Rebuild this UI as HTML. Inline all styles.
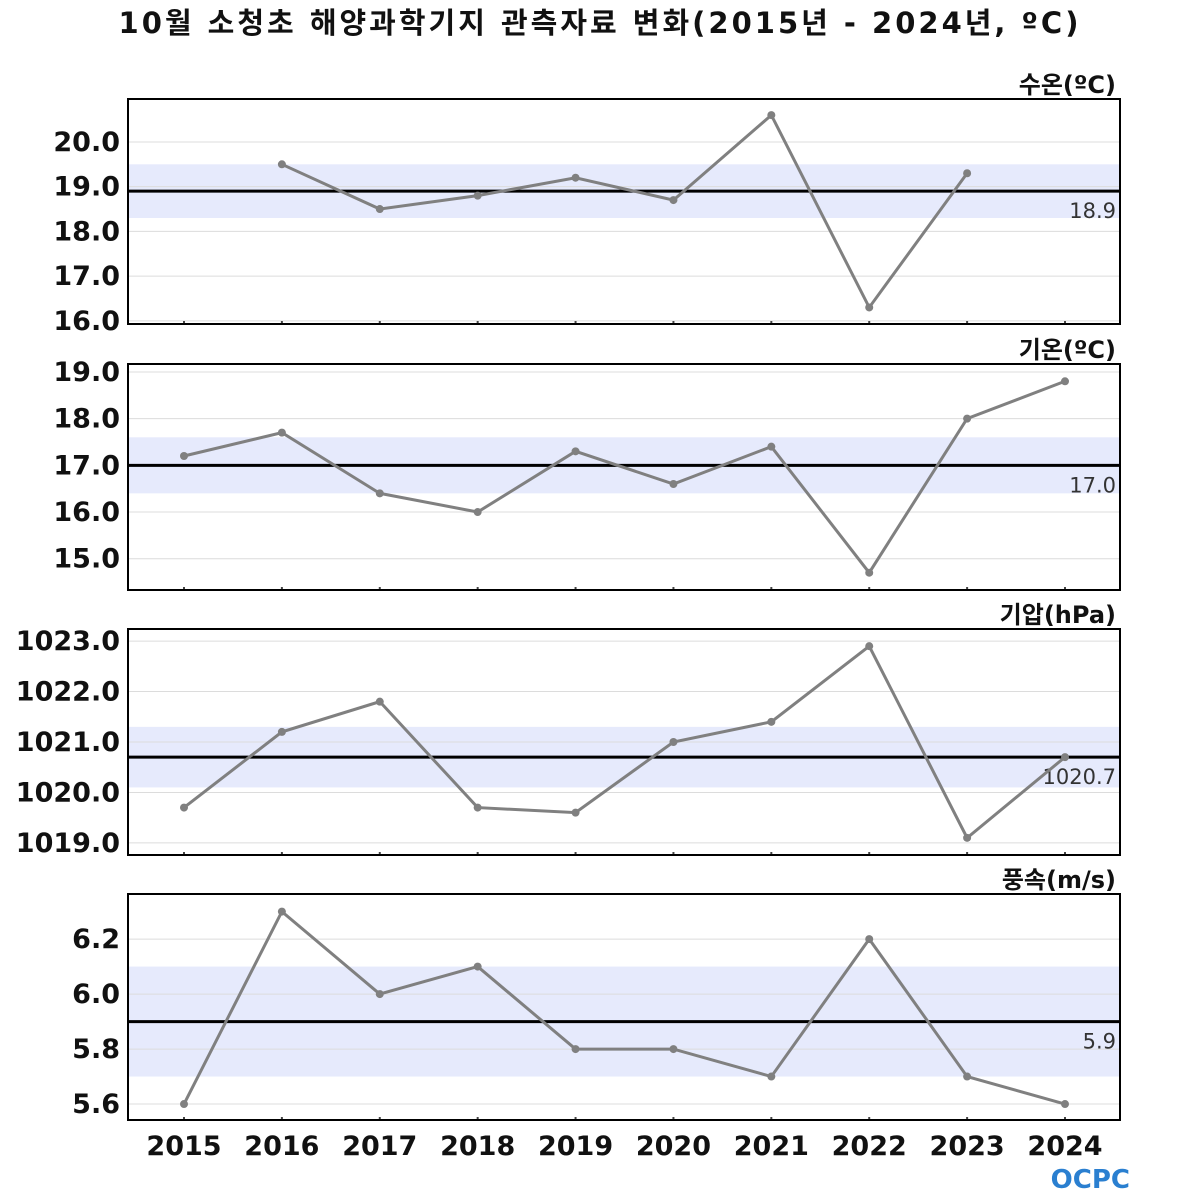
<!DOCTYPE html>
<html><head><meta charset="utf-8"><style>
body{margin:0;background:#fff;width:1200px;height:1200px;overflow:hidden}
svg{display:block;font-family:"DejaVu Sans","Noto Sans CJK KR",sans-serif}
</style></head><body>
<svg id="chart" width="1200" height="1200">
<text x="600" y="33" text-anchor="middle" font-size="29" font-weight="bold" letter-spacing="3" fill="#111">10월 소청초 해양과학기지 관측자료 변화(2015년 - 2024년, ºC)</text>
<text x="1130" y="1188" text-anchor="end" font-size="26" font-weight="bold" fill="#2a7fd0">OCPC</text>
</svg>
<script>
const years=[2015,2016,2017,2018,2019,2020,2021,2022,2023,2024];
const waterTemp=[null,19.5,18.5,18.8,19.2,18.7,20.6,16.3,19.3,null];
const airTemp=[17.2,17.7,16.4,16.0,17.3,16.6,17.4,14.7,18.0,18.8];
const pressure=[1019.7,1021.2,1021.8,1019.7,1019.6,1021.0,1021.4,1022.9,1019.1,1020.7];
const wind=[5.6,6.3,6.0,6.1,5.8,5.8,5.7,6.2,5.7,5.6];
const means=[18.9,17.0,1020.7,5.9];
const bandLo=[18.3,16.4,1020.1,5.7];
const bandHi=[19.5,17.6,1021.3,6.1];
const titles=["수온(ºC)","기온(ºC)","기압(hPa)","풍속(m/s)"];
const ticks1=[16,17,18,19,20],ticks2=[15,16,17,18,19],ticks3=[1019,1020,1021,1022,1023],ticks4=[5.6,5.8,6.0,6.2];
const NS="http://www.w3.org/2000/svg";
const svg=document.getElementById('chart');
function mk(t,a,p){const e=document.createElementNS(NS,t);for(const k in a)e.setAttribute(k,a[k]);(p||svg).appendChild(e);return e;}
const X0=128,X1=1120;
function xs(i){return 184+i*(1065-184)/9;}
const panels=[
 {data:waterTemp,ticks:ticks1,top:99,bot:324,min:15.93,max:20.96,dec:1},
 {data:airTemp,ticks:ticks2,top:364,bot:590,min:14.33,max:19.17,dec:1},
 {data:pressure,ticks:ticks3,top:629,bot:855,min:1018.76,max:1023.24,dec:1},
 {data:wind,ticks:ticks4,top:894,bot:1120,min:5.542,max:6.364,dec:1}];
panels.forEach((p,k)=>{
 const g=mk('g',{});
 
 
 const ys=v=>p.bot-(v-p.min)/(p.max-p.min)*(p.bot-p.top);
 const band=mk('rect',{x:X0,y:ys(bandHi[k]),width:X1-X0,height:ys(bandLo[k])-ys(bandHi[k]),fill:'#e6eafc'},g);
 
 
 p.ticks.forEach(t=>{
  mk('line',{x1:X0,x2:X1,y1:ys(t),y2:ys(t),stroke:'#dcdcdc','stroke-width':1},g);
  const tl=mk('text',{x:120,y:ys(t)+9,'text-anchor':'end','font-size':27,'font-weight':'bold',fill:'#111'},g);
  tl.textContent=t.toFixed(p.dec);
  
  
 });
 const ml=mk('line',{x1:X0,x2:X1,y1:ys(means[k]),y2:ys(means[k]),stroke:'#000','stroke-width':3},g);
 
 
 const mt=mk('text',{x:1116,y:ys(means[k])+27,'text-anchor':'end','font-size':21,fill:'#333'},g);
 mt.textContent=means[k].toFixed(1);
 
 
 years.forEach((y,i)=>mk('line',{x1:xs(i),x2:xs(i),y1:p.bot-3,y2:p.bot,stroke:'#444','stroke-width':2},g));
 let d='';
 p.data.forEach((v,i)=>{if(v!==null)d+=(d?'L':'M')+xs(i)+','+ys(v);});
 const ln=mk('path',{d:d,fill:'none',stroke:'#808080','stroke-width':3},g);
 
 
 p.data.forEach((v,i)=>{if(v===null)return;
  const c=mk('circle',{cx:xs(i),cy:ys(v),r:4,fill:'#808080'},g);
  
  
 });
 const fr=mk('rect',{x:X0,y:p.top,width:X1-X0,height:p.bot-p.top,fill:'none',stroke:'#000','stroke-width':2},g);
 
 
 const tt=mk('text',{x:1116,y:p.top-6,'text-anchor':'end','font-size':24,'font-weight':'bold',fill:'#111'},g);
 tt.textContent=titles[k];
 
 
});
years.forEach((y,i)=>{
 const t=mk('text',{x:xs(i),y:1155,'text-anchor':'middle','font-size':27,'font-weight':'bold',fill:'#111'});
 t.textContent=y;
 
 
});
</script>
</body></html>
